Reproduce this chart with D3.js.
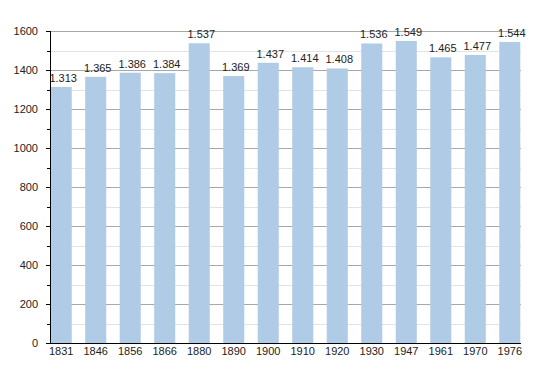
<!DOCTYPE html>
<html>
<head>
<meta charset="utf-8">
<script src="https://cdn.jsdelivr.net/npm/d3@7"></script>
<style>
  body { margin: 0; background: #fff; }
  text { font-family: "Liberation Sans", Arial, sans-serif; }
</style>
</head>
<body>
<svg id="chart"></svg>
<script>
// years and population
const years = ["1831", "1846", "1856", "1866", "1880", "1890", "1900", "1910", "1920", "1930", "1947", "1961", "1970", "1976"];
const population = [1313, 1365, 1386, 1384, 1537, 1369, 1437, 1414, 1408, 1536, 1549, 1465, 1477, 1544];
const yTicks = [0, 200, 400, 600, 800, 1000, 1200, 1400, 1600];
const yMinor = [100, 300, 500, 700, 900, 1100, 1300, 1500];

const width = 550, height = 373;
const margin = { top: 31, right: 29, bottom: 30, left: 50 };

const svg = d3.select("#chart")
    .attr("width", width)
    .attr("height", height);

const x = d3.scaleBand()
    .domain(years)
    .range([margin.left, width - margin.right])
    .paddingInner(0.39)
    .paddingOuter(0.02);

const y = d3.scaleLinear()
    .domain([0, 1600])
    .range([height - margin.bottom, margin.top]);

// minor grid lines
svg.append("g")
    .selectAll("line")
    .data(yMinor)
    .enter().append("line")
    .attr("x1", margin.left)
    .attr("x2", width - margin.right)
    .attr("y1", d => Math.round(y(d)) + 0.5)
    .attr("y2", d => Math.round(y(d)) + 0.5)
    .attr("stroke", "#e3e3e3");

// major grid lines
svg.append("g")
    .selectAll("line")
    .data(yTicks.slice(1))
    .enter().append("line")
    .attr("x1", margin.left)
    .attr("x2", width - margin.right)
    .attr("y1", d => Math.round(y(d)) + 0.5)
    .attr("y2", d => Math.round(y(d)) + 0.5)
    .attr("stroke", "#a8a8a8");

// bars
svg.append("g")
    .selectAll("rect")
    .data(population)
    .enter().append("rect")
    .attr("x", (d, i) => x(years[i]))
    .attr("width", x.bandwidth())
    .attr("y", d => y(d))
    .attr("height", d => y(0) - y(d))
    .attr("fill", "#b0cbe5");

// value labels (dot as thousands separator)
svg.append("g")
    .selectAll("text")
    .data(population)
    .enter().append("text")
    .attr("x", (d, i) => x(years[i]) + x.bandwidth() / 2 + 2)
    .attr("y", d => y(d) - 5)
    .attr("text-anchor", "middle")
    .attr("font-size", "11px")
    .attr("fill", "#222")
    .text(d => d3.format(",")(d).replace(",", "."));

// y axis
const yAxis = svg.append("g")
    .attr("transform", `translate(${margin.left},0)`);
yAxis.append("line")
    .attr("x1", 0.5).attr("x2", 0.5)
    .attr("y1", y(1600)).attr("y2", y(0))
    .attr("stroke", "#000");
yAxis.selectAll(".major")
    .data(yTicks)
    .enter().append("line")
    .attr("x1", -4).attr("x2", 0)
    .attr("y1", d => Math.round(y(d)) + 0.5)
    .attr("y2", d => Math.round(y(d)) + 0.5)
    .attr("stroke", "#000");
yAxis.selectAll(".minor")
    .data(yMinor)
    .enter().append("line")
    .attr("x1", -3).attr("x2", 0)
    .attr("y1", d => Math.round(y(d)) + 0.5)
    .attr("y2", d => Math.round(y(d)) + 0.5)
    .attr("stroke", "#000");
yAxis.selectAll("text")
    .data(yTicks)
    .enter().append("text")
    .attr("x", -12)
    .attr("y", d => y(d) + 4)
    .attr("text-anchor", "end")
    .attr("font-size", "11px")
    .attr("fill", "#222")
    .text(d => d);

// x axis
svg.append("line")
    .attr("x1", margin.left)
    .attr("x2", width - margin.right)
    .attr("y1", y(0) + 0.5)
    .attr("y2", y(0) + 0.5)
    .attr("stroke", "#000");
svg.append("g")
    .selectAll("text")
    .data(years)
    .enter().append("text")
    .attr("x", d => x(d) + x.bandwidth() / 2)
    .attr("y", y(0) + 12)
    .attr("text-anchor", "middle")
    .attr("font-size", "11px")
    .attr("fill", "#222")
    .text(d => d);
</script>
</body>
</html>
